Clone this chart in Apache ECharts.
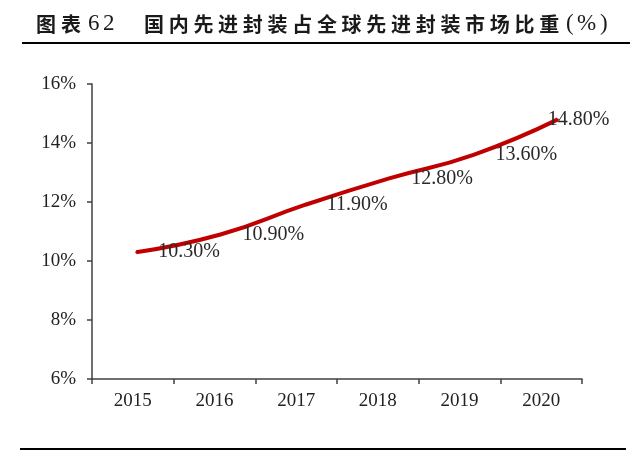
<!DOCTYPE html>
<html>
<head>
    <meta charset="utf-8">
    <title>国内先进封装占全球先进封装市场比重</title>
    <script src="https://cdn.jsdelivr.net/npm/echarts@6/dist/echarts.min.js"></script>
    <style>
        html, body { margin: 0; padding: 0; background: #fff; }
    </style>
</head>
<body>
    <div id="main" style="width:640px;height:451px;"></div>
    <script type="text/javascript">
        // 数据
        var years = ['2015', '2016', '2017', '2018', '2019', '2020'];
        var shareValues = [10.3, 10.9, 11.9, 12.8, 13.6, 14.8];
        var yTicks = [6, 8, 10, 12, 14, 16];
        var titleMain = '国内先进封装占全球先进封装市场比重';

        var serif = '"Liberation Serif", "DejaVu Serif", serif';
        var cjk = '"Noto Sans CJK SC", sans-serif';
        var ink = '#1a1a1a';

        var chart = echarts.init(document.getElementById('main'));

        // 标题：原图字距较宽，逐字摆放
        function glyph(ch, x, font) {
            return {
                type: 'text', x: x, y: 24,
                style: { text: ch, font: font, fill: ink, align: 'left', verticalAlign: 'middle' }
            };
        }
        var titleEls = [
            glyph('图', 36, 'bold 20px ' + cjk),
            glyph('表', 61, 'bold 20px ' + cjk),
            glyph('6', 88, '23px ' + serif),
            glyph('2', 103, '23px ' + serif)
        ];
        titleMain.split('').forEach(function (ch, i) {
            titleEls.push(glyph(ch, 144 + i * 24.7, 'bold 20px ' + cjk));
        });
        titleEls.push(glyph('(', 566, '23px ' + serif));
        titleEls.push(glyph('%', 577, '23px ' + serif));
        titleEls.push(glyph(')', 600, '23px ' + serif));
        titleEls.push({
            type: 'line',
            shape: { x1: 22, y1: 43, x2: 630, y2: 43 },
            style: { stroke: '#000', lineWidth: 2 }
        });
        titleEls.push({
            type: 'line',
            shape: { x1: 20, y1: 449, x2: 626, y2: 449 },
            style: { stroke: '#000', lineWidth: 2 }
        });

        var lineData = shareValues.map(function (v, i) {
            return {
                value: v,
                label: { distance: i === shareValues.length - 1 ? -11 : 21 }
            };
        });

        var option = {
            backgroundColor: '#fff',
            animation: false,
            graphic: titleEls,
            grid: [
                { left: 92, right: 58, top: 84, bottom: 72 },
                // 折线在原图中比类目稍微展开
                { left: 94, right: 40, top: 84, bottom: 72 }
            ],
            xAxis: [{
                type: 'category',
                gridIndex: 0,
                data: years,
                boundaryGap: true,
                axisLine: { lineStyle: { color: '#404040', width: 1.5 } },
                axisTick: { show: true, length: 5, lineStyle: { color: '#404040', width: 1.5 } },
                axisLabel: {
                    margin: 13,
                    fontFamily: serif,
                    fontSize: 19,
                    color: '#222'
                },
                splitLine: { show: false }
            }, {
                type: 'category',
                gridIndex: 1,
                data: years,
                boundaryGap: true,
                show: false
            }],
            yAxis: [{
                type: 'value',
                gridIndex: 0,
                min: yTicks[0],
                max: yTicks[yTicks.length - 1],
                interval: 2,
                axisLine: { show: true, lineStyle: { color: '#404040', width: 1.5 } },
                axisTick: { show: true, length: 5, lineStyle: { color: '#404040', width: 1.5 } },
                axisLabel: {
                    margin: 16,
                    fontFamily: serif,
                    fontSize: 19,
                    color: '#222',
                    formatter: '{value}%'
                },
                splitLine: { show: false }
            }, {
                type: 'value',
                gridIndex: 1,
                min: yTicks[0],
                max: yTicks[yTicks.length - 1],
                interval: 2,
                show: false
            }],
            series: [{
                type: 'line',
                xAxisIndex: 1,
                yAxisIndex: 1,
                data: lineData,
                smooth: true,
                showSymbol: true,
                symbol: 'circle',
                symbolSize: 2,
                itemStyle: { color: '#C00000' },
                lineStyle: { color: '#C00000', width: 4 },
                label: {
                    show: true,
                    position: 'right',
                    fontFamily: serif,
                    fontSize: 20,
                    color: '#2a2a2a',
                    formatter: function (p) { return p.value.toFixed(2) + '%'; }
                }
            }]
        };
        chart.setOption(option);
    </script>
</body>
</html>
